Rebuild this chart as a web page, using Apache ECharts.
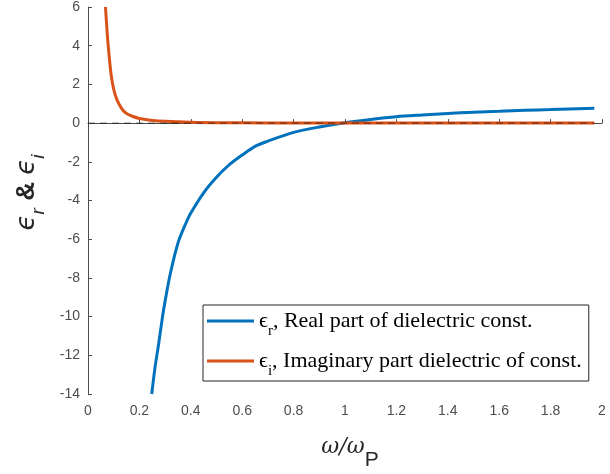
<!DOCTYPE html>
<html>
<head>
<meta charset="utf-8">
<script src="https://cdn.jsdelivr.net/npm/echarts@6/dist/echarts.min.js"></script>
<style>
html, body { margin: 0; padding: 0; background: #fff; }
#chart { width: 610px; height: 474px; }
</style>
</head>
<body>
<div id="chart"></div>
<script>
// values
var realX = [0.248, 0.26, 0.275, 0.29, 0.3, 0.32, 0.35, 0.38, 0.4, 0.45, 0.5, 0.55, 0.6, 0.65, 0.7, 0.8, 0.9, 1.0, 1.1, 1.2, 1.3, 1.4, 1.5, 1.6, 1.7, 1.8, 1.97];
var realY = [-14, -12.7, -11.4, -10, -9.2, -7.8, -6.2, -5.2, -4.65, -3.6, -2.8, -2.15, -1.65, -1.2, -0.93, -0.48, -0.2, 0.02, 0.19, 0.33, 0.42, 0.5, 0.56, 0.61, 0.66, 0.7, 0.77];

var imagX = [0.068, 0.075, 0.08, 0.09, 0.1, 0.11, 0.12, 0.135, 0.15, 0.175, 0.2, 0.25, 0.3, 0.4, 0.5, 0.7, 1.0, 1.5, 1.97];
var imagY = [6, 4.6, 3.8, 2.5, 1.75, 1.3, 1.0, 0.68, 0.5, 0.34, 0.24, 0.14, 0.09, 0.04, 0.02, 0.01, 0.005, 0.002, 0.001];

var zeroX = [0, 1.97];
var zeroY = [0, 0];

var names = ['eps_r', 'eps_i'];

function pairs(xs, ys) {
  var out = [];
  for (var i = 0; i < xs.length; i++) out.push([xs[i], ys[i]]);
  return out;
}

var myChart = echarts.init(document.getElementById('chart'));

myChart.setOption({
  animation: false,
  grid: { left: 88, right: 8, top: 7, bottom: 80, outerBoundsMode: 'none' },
  legend: {
    data: names,
    orient: 'vertical',
    left: 203,
    top: 305,
    padding: [5, 7, 2, 4],
    itemGap: 11,
    itemWidth: 47,
    itemHeight: 3,
    icon: 'rect',
    backgroundColor: '#fff',
    borderColor: '#262626',
    borderWidth: 1,
    formatter: function (n) {
      if (n === 'eps_r') return '{t|ϵ}{s|r}{t|, Real part of dielectric const.}';
      return '{t|ϵ}{s|i}{t|, Imaginary part dielectric of const.}';
    },
    textStyle: {
      rich: {
        t: { fontFamily: 'Liberation Serif', fontSize: 22, color: '#000', lineHeight: 26, verticalAlign: 'middle' },
        s: { fontFamily: 'Liberation Serif', fontSize: 15, color: '#000', lineHeight: 26, verticalAlign: 'bottom', padding: [0, 0, -5, 0] }
      }
    }
  },
  xAxis: {
    type: 'value',
    min: 0,
    max: 2,
    interval: 0.2,
    name: '{w|ω/ω}{p|P}',
    nameLocation: 'middle',
    nameGap: 42,
    nameTextStyle: {
      padding: [0, 0, 0, 10],
      rich: {
        w: { fontFamily: 'DejaVu Serif', fontStyle: 'italic', fontSize: 22, color: '#262626', verticalAlign: 'top' },
        p: { fontFamily: 'Liberation Sans', fontSize: 21, color: '#262626', verticalAlign: 'bottom', padding: [14, 0, 0, 0] }
      }
    },
    axisLine: { lineStyle: { color: '#4d4d4d', width: 1 } },
    axisTick: { inside: true, length: 4, lineStyle: { color: '#4d4d4d' } },
    axisLabel: { color: '#4d4d4d', fontFamily: 'Liberation Sans', fontSize: 14, margin: 10 },
    splitLine: { show: false }
  },
  yAxis: {
    type: 'value',
    min: -14,
    max: 6,
    interval: 2,
    name: '{e|ϵ}{s|r}{a| & }{e|ϵ}{s|i}',
    nameLocation: 'middle',
    nameRotate: 90,
    nameGap: 40,
    nameTextStyle: {
      padding: [0, 0, 0, 16],
      rich: {
        e: { fontFamily: 'DejaVu Sans', fontStyle: 'italic', fontSize: 26, color: '#262626', verticalAlign: 'top' },
        a: { fontFamily: 'Liberation Sans', fontWeight: 'bold', fontSize: 26, color: '#262626', verticalAlign: 'top' },
        s: { fontFamily: 'Liberation Sans', fontStyle: 'italic', fontSize: 19, color: '#262626', verticalAlign: 'bottom', padding: [15, 0, 0, 0] }
      }
    },
    axisLine: { show: true, lineStyle: { color: '#4d4d4d', width: 1 } },
    axisTick: { show: true, inside: true, length: 4, lineStyle: { color: '#4d4d4d' } },
    axisLabel: { color: '#4d4d4d', fontFamily: 'Liberation Sans', fontSize: 14, margin: 8 },
    splitLine: { show: false }
  },
  series: [
    {
      name: 'eps_r',
      type: 'line',
      data: pairs(realX, realY),
      symbol: 'none',
      smooth: 0.3,
      color: '#0072BD',
      lineStyle: { width: 3, color: '#0072BD' },
      z: 2
    },
    {
      name: 'eps_i',
      type: 'line',
      data: pairs(imagX, imagY),
      symbol: 'none',
      smooth: 0.3,
      color: '#D95319',
      lineStyle: { width: 3, color: '#D95319' },
      z: 3
    },
    {
      name: 'zero',
      type: 'line',
      data: pairs(zeroX, zeroY),
      symbol: 'none',
      silent: true,
      lineStyle: { width: 1, color: 'rgba(0,0,0,0.55)', type: [7, 5] },
      z: 4
    }
  ]
});
</script>
</body>
</html>
